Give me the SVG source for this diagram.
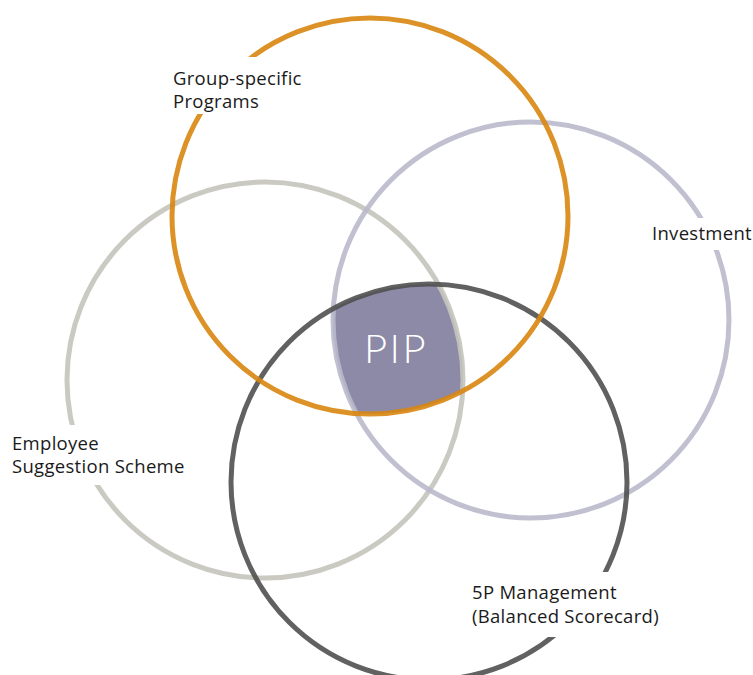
<svg xmlns="http://www.w3.org/2000/svg" width="753" height="675" viewBox="0 0 753 675">
<style>
.ring{fill:none;stroke-width:5;stroke-opacity:0.9}
.lbl{font-family:"Open Sans","Noto Sans","Liberation Sans",sans-serif;font-size:18.5px;fill:#1a1a1a;letter-spacing:0.3px}
.bg{fill:#ffffff}
</style>
<defs>
<clipPath id="cO"><circle cx="370" cy="216" r="198"/></clipPath>
<clipPath id="cG"><circle cx="265" cy="380" r="198"/></clipPath>
<clipPath id="cL"><circle cx="531" cy="320" r="198"/></clipPath>
<clipPath id="cD"><circle cx="429" cy="482" r="198"/></clipPath>
</defs>
<rect width="753" height="675" fill="#ffffff"/>
<g id="pip">
<g clip-path="url(#cO)"><g clip-path="url(#cG)"><g clip-path="url(#cL)"><g clip-path="url(#cD)">
<rect x="300" y="250" width="200" height="200" fill="#8d8aa8"/>
</g></g></g></g>
</g>
<g id="circles">
<circle id="employee" class="ring" cx="265" cy="380" r="198" stroke="#c4c4bd"/>
<circle id="investment" class="ring" cx="531" cy="320" r="198" stroke="#b9b9cb"/>
<circle id="fivep" class="ring" cx="429" cy="482" r="198" stroke="#505050"/>
<circle id="group" class="ring" cx="370" cy="216" r="198" stroke="#d8860f"/>
</g>
<g id="labels">
<rect class="bg" x="166" y="57" width="142" height="57"/>
<text class="lbl" x="173" y="85">Group-specific</text>
<text class="lbl" x="173" y="108">Programs</text>
<rect class="bg" x="648" y="218" width="105" height="32"/>
<text class="lbl" x="652" y="240">Investment</text>
<rect class="bg" x="6" y="425" width="192" height="60"/>
<text class="lbl" x="12" y="450">Employee</text>
<text class="lbl" x="12" y="473">Suggestion Scheme</text>
<rect class="bg" x="466" y="572" width="196" height="65"/>
<text class="lbl" x="472" y="599">5P Management</text>
<text class="lbl" x="472" y="623">(Balanced Scorecard)</text>
<text x="396" y="363" text-anchor="middle" font-family="Lato,'Open Sans',sans-serif" font-weight="300" font-size="40" letter-spacing="2.5" fill="#ffffff">PIP</text>
</g>
</svg>
